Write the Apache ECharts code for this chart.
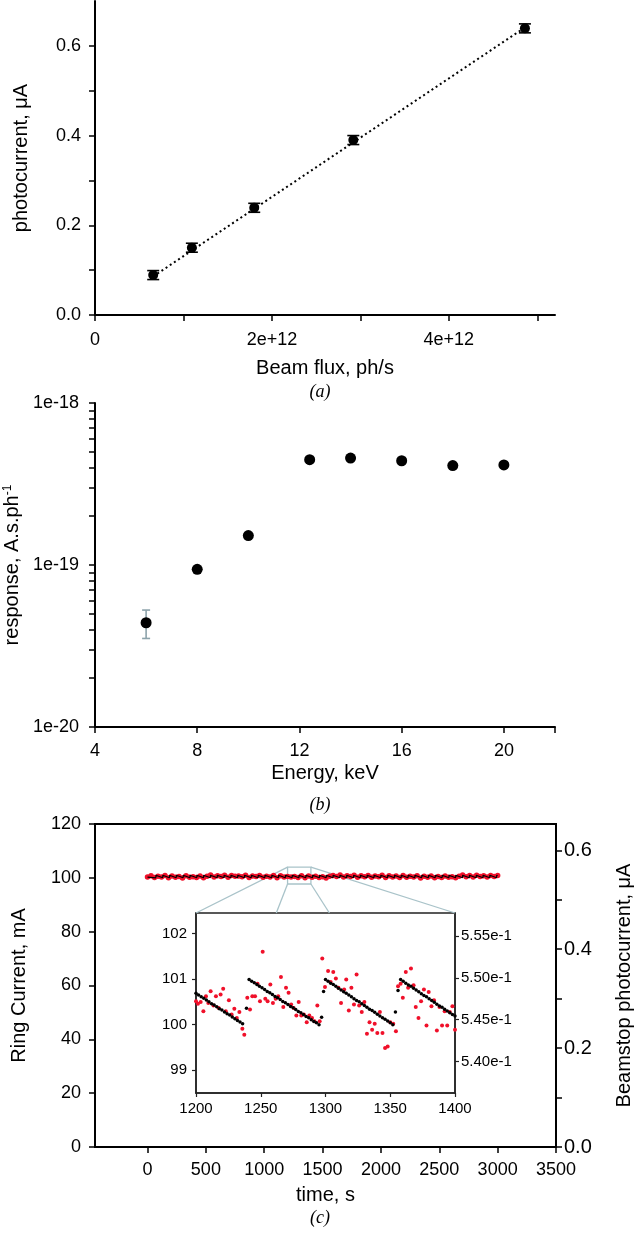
<!DOCTYPE html>
<html>
<head>
<meta charset="utf-8">
<script src="https://cdn.jsdelivr.net/npm/echarts@6/dist/echarts.min.js"></script>
<style>
html,body{margin:0;padding:0;background:#fff;}
#chart{width:640px;height:1233px;}
</style>
</head>
<body>
<div id="chart"></div>
<script>
// ---------- Panel (a): photocurrent vs beam flux ----------
const fluxX = [0.658e12, 1.095e12, 1.80e12, 2.92e12, 4.86e12];
const photoY = [0.089, 0.150, 0.239, 0.390, 0.639];
const photoErr = [0.010, 0.010, 0.010, 0.010, 0.010];
const fitX = [0.658e12, 4.86e12];
const fitY = [0.086, 0.641];
const aXTicks = [0, 1e12, 2e12, 3e12, 4e12, 5e12];
const aXLabels = [0, 2e12, 4e12];
const aYTicks = [0, 0.1, 0.2, 0.3, 0.4, 0.5, 0.6];
const aYLabels = [0, 0.2, 0.4, 0.6];

// ---------- Panel (b): response vs energy ----------
const energyX = [6, 8, 10, 12.4, 14, 16, 18, 20];
const responseY = [4.4e-20, 9.4e-20, 1.52e-19, 4.47e-19, 4.57e-19, 4.4e-19, 4.11e-19, 4.15e-19];
const respErrX = [6];
const respErrLow = [3.52e-20];
const respErrHigh = [5.27e-20];
const bXTicks = [4, 8, 12, 16, 20, 22];
const bXLabels = [4, 8, 12, 16, 20];
const bYTicks = [1e-20,2e-20,3e-20,4e-20,5e-20,6e-20,7e-20,8e-20,9e-20,
                 1e-19,2e-19,3e-19,4e-19,5e-19,6e-19,7e-19,8e-19,9e-19,1e-18];
const bYLabels = [1e-20, 1e-19, 1e-18];

// ---------- Panel (c): ring current & beamstop photocurrent vs time ----------
const cXTicks = [0, 500, 1000, 1500, 2000, 2500, 3000, 3500];
const cRightTicks = [0, 0.1, 0.2, 0.3, 0.4, 0.5, 0.6];
const cRightLabels = [0, 0.2, 0.4, 0.6];
// top-up (refill) times of the ring current, s
const refillT = [14, 72, 131, 189, 247, 306, 364, 423, 481, 539, 598, 656, 715, 773, 831, 890,
  948, 1006, 1065, 1123, 1182, 1240, 1298, 1357, 1415, 1474, 1532, 1590, 1649, 1707, 1766, 1824,
  1882, 1941, 1999, 2058, 2116, 2174, 2233, 2291, 2350, 2408, 2466, 2525, 2583, 2641, 2700, 2758,
  2817, 2875, 2933, 2992];
const ringPeak = 101.0;    // mA just after a top-up
const ringTrough = 100.0;  // mA just before a top-up
const ringStart = 100.26;  // mA at t = 0
const ringEnd = 100.85;    // mA at t = 3000

const mainRedT = [0,30,60,90,120,150,180,210,240,270,300,330,360,390,420,450,480,510,540,570,
  600,630,660,690,720,750,780,810,840,870,900,930,960,990,1020,1050,1080,1110,1140,1170,
  1200,1230,1260,1290,1320,1350,1380,1410,1440,1470,1500,1530,1560,1590,1620,1650,1680,1710,1740,1770,
  1800,1830,1860,1890,1920,1950,1980,2010,2040,2070,2100,2130,2160,2190,2220,2250,2280,2310,2340,2370,
  2400,2430,2460,2490,2520,2550,2580,2610,2640,2670,2700,2730,2760,2790,2820,2850,2880,2910,2940,2970,3000];
const mainRedV = [0.5460,0.5488,0.5449,0.5477,0.5460,0.5493,0.5444,0.5482,0.5455,0.5471,
  0.5439,0.5488,0.5455,0.5466,0.5449,0.5482,0.5444,0.5477,0.5504,0.5460,
  0.5488,0.5471,0.5498,0.5455,0.5493,0.5477,0.5482,0.5466,0.5498,0.5449,
  0.5482,0.5471,0.5493,0.5455,0.5477,0.5460,0.5493,0.5444,0.5488,0.5460,
  0.5471,0.5463,0.5470,0.5453,0.5488,0.5444,0.5483,0.5455,0.5477,0.5449,
  0.5466,0.5439,0.5477,0.5493,0.5471,0.5504,0.5460,0.5488,0.5471,0.5498,
  0.5455,0.5488,0.5466,0.5493,0.5455,0.5482,0.5466,0.5498,0.5449,0.5488,
  0.5460,0.5482,0.5449,0.5493,0.5455,0.5477,0.5460,0.5488,0.5439,0.5477,
  0.5455,0.5482,0.5444,0.5471,0.5449,0.5482,0.5455,0.5466,0.5444,0.5477,
  0.5504,0.5466,0.5493,0.5460,0.5498,0.5471,0.5488,0.5460,0.5493,0.5471,0.5493];

// inset: 1200-1400 s
const insetRingT = [1200,1202,1204,1206,1208,1210,1212,1214,1216,1218,1220,1222,1224,1226,1228,1230,1232,1234,1236,
  1239,
  1241,1243,1245,1247,1249,1251,1253,1255,1257,1259,1261,1263,1265,1267,1269,1271,1273,1275,1277,1279,1281,1283,1285,1287,1289,1291,1293,1295,
  1297,1298.5,
  1300,1302,1304,1306,1308,1310,1312,1314,1316,1318,1320,1322,1324,1326,1328,1330,1332,1334,1336,1338,1340,1342,1344,1346,1348,1350,1352,
  1354,1356,
  1358,1360,1362,1364,1366,1368,1370,1372,1374,1376,1378,1380,1382,1384,1386,1388,1390,1392,1394,1396,1398,1400];
const insetRingV = [100.69,100.65,100.61,100.58,100.54,100.50,100.46,100.43,100.39,100.35,100.32,100.28,100.24,100.21,100.17,100.13,100.09,100.06,100.02,
  100.36,
  100.99,100.95,100.92,100.88,100.84,100.81,100.77,100.73,100.70,100.66,100.62,100.59,100.55,100.51,100.48,100.44,100.40,100.37,100.33,100.29,100.26,100.22,100.18,100.15,100.11,100.07,100.04,100.00,
  100.16,100.73,
  100.99,100.95,100.91,100.88,100.84,100.80,100.76,100.72,100.69,100.65,100.61,100.57,100.53,100.50,100.46,100.42,100.38,100.34,100.31,100.27,100.23,100.19,100.15,100.12,100.08,100.04,100.00,
  100.28,100.75,
  100.99,100.95,100.91,100.87,100.84,100.80,100.76,100.72,100.68,100.64,100.61,100.57,100.53,100.49,100.45,100.41,100.38,100.34,100.30,100.26,100.22,100.19];
const insetRedT = [1200,1201.5,1203.6,1205.7,1207.7,1209.5,1211.3,1213.5,1215.4,1217.5,1219,1221,1223,1225.4,1227.5,1229.6,1231.5,1233.5,1235.8,1237.3,
  1239.6,1241.7,1243.5,1245.6,1247.5,1249.4,1251.5,1253.5,1255.3,1257.4,1259.4,1261.5,1263.5,1265.6,1267.4,1269.5,1271.5,1273.5,1275.4,1277.5,
  1279.3,1281.3,1283.3,1285.5,1287.5,1289.6,1291.5,1293.7,1295.5,1297.5,1299.6,1302,1304,1306,1308,1310,1312,1314.4,1316,1318,
  1320,1322,1324,1326,1328,1330,1332,1334,1336,1338,1340,1342,1344,1346,1348,1350,1352.3,1354.4,1356,1358,
  1359.7,1362,1363.8,1366,1368,1369.7,1371.8,1373.8,1376,1378,1379.7,1381.8,1383.8,1386,1388,1390,1392,1394,1396,1398,1400];
const insetRedV = [0.5472,0.5469,0.5471,0.5460,0.5478,0.5470,0.5484,0.5467,0.5478,0.5464,0.5480,0.5487,0.5460,0.5473,0.5456,0.5463,0.5452,0.5459,0.5439,0.5432,
  0.5476,0.5462,0.5478,0.5478,0.5493,0.5472,0.5531,0.5475,0.5472,0.5492,0.5470,0.5475,0.5478,0.5501,0.5465,0.5488,0.5482,0.5468,0.5464,0.5455,
  0.5471,0.5455,0.5456,0.5447,0.5455,0.5452,0.5448,0.5467,0.5448,0.5523,0.5489,0.5508,0.5495,0.5507,0.5499,0.5488,0.5470,0.5486,0.5498,0.5461,
  0.5488,0.5468,0.5504,0.5467,0.5459,0.5471,0.5433,0.5447,0.5438,0.5445,0.5434,0.5459,0.5434,0.5416,0.5418,0.5447,0.5445,0.5436,0.5490,0.5493,
  0.5476,0.5507,0.5488,0.5511,0.5491,0.5465,0.5452,0.5472,0.5486,0.5443,0.5483,0.5466,0.5473,0.5437,0.5465,0.5443,0.5460,0.5443,0.5459,0.5466,0.5438];
const insetLeftTicks = [99, 100, 101, 102];
const insetRightTicks = [0.540, 0.545, 0.550, 0.555];
// annotation: zoomed region marked on the main panel
const zoomBox = {t0: 1200, t1: 1400, lo: 97.7, hi: 104.0};
const zoomFeet = [1262, 1303];

// ---------- helpers ----------
const FONT = 'Liberation Sans, Arial, sans-serif';
const BLACK = '#000';
const RED = '#f0102a';
const zip = (a, b) => a.map((v, i) => [v, b[i]]);

// ring current sawtooth vertices built from top-up times
const ringLine = [[0, ringStart]];
refillT.forEach((t, i) => {
  if (i > 0) ringLine.push([t - 1, ringTrough]);
  ringLine.push([t, ringPeak]);
});
ringLine.push([3000, ringEnd]);

function axisCommon(extra) {
  return Object.assign({
    axisLine: {show: true, onZero: false, lineStyle: {color: BLACK, width: 2}},
    axisTick: {show: true, inside: false, length: 6, lineStyle: {color: BLACK, width: 1.5}},
    splitLine: {show: false},
    nameLocation: 'middle',
    nameTextStyle: {color: BLACK, fontFamily: FONT, fontSize: 20},
  }, extra);
}
function lbl(size, margin, customValues, formatter) {
  const o = {color: BLACK, fontFamily: FONT, fontSize: size, margin: margin,
    formatter: formatter || (v => String(v))};
  if (customValues) o.customValues = customValues;
  return o;
}
function errRender(color, capHalf) {
  return function (params, api) {
    const x = api.value(0), lo = api.value(1), hi = api.value(2);
    const p1 = api.coord([x, lo]), p2 = api.coord([x, hi]);
    const st = {stroke: color, lineWidth: 1.6};
    return {type: 'group', children: [
      {type: 'line', shape: {x1: p1[0], y1: p1[1], x2: p2[0], y2: p2[1]}, style: st},
      {type: 'line', shape: {x1: p1[0] - capHalf, y1: p1[1], x2: p1[0] + capHalf, y2: p1[1]}, style: st},
      {type: 'line', shape: {x1: p2[0] - capHalf, y1: p2[1], x2: p2[0] + capHalf, y2: p2[1]}, style: st}
    ]};
  };
}
const solid = c => ({color: c, opacity: 1});

const chart = echarts.init(document.getElementById('chart'), null, {renderer: 'canvas'});
const serif = 'Liberation Serif, Times New Roman, serif';
const option = {
  backgroundColor: '#fff',
  animation: false,
  title: [
    {text: '(a)', left: 'center', top: 383, padding: 0, textStyle: {fontFamily: serif, fontStyle: 'italic', fontWeight: 'normal', fontSize: 18, color: BLACK}},
    {text: '(b)', left: 'center', top: 796, padding: 0, textStyle: {fontFamily: serif, fontStyle: 'italic', fontWeight: 'normal', fontSize: 18, color: BLACK}},
    {text: '(c)', left: 'center', top: 1209, padding: 0, textStyle: {fontFamily: serif, fontStyle: 'italic', fontWeight: 'normal', fontSize: 18, color: BLACK}}
  ],
  grid: [
    {left: 95, top: 1, width: 460, height: 314, containLabel: false, outerBoundsMode: 'none'},
    {left: 95, top: 403, width: 460, height: 324, containLabel: false, outerBoundsMode: 'none'},
    {left: 95, top: 824, width: 461, height: 323, containLabel: false, outerBoundsMode: 'none', show: true, borderColor: BLACK, borderWidth: 2, backgroundColor: 'transparent'},
    {left: 196, top: 913, width: 259, height: 180, containLabel: false, outerBoundsMode: 'none', show: true, borderColor: '#222', borderWidth: 1.5, backgroundColor: 'transparent'}
  ],
  xAxis: [
    axisCommon({gridIndex: 0, type: 'value', min: 0, max: 5.2e12, name: 'Beam flux, ph/s', nameGap: 43,
      axisTick: {show: true, length: 6, lineStyle: {color: BLACK, width: 1.5}, customValues: aXTicks},
      axisLabel: lbl(18, 16, aXLabels, v => v === 0 ? '0' : (v / 1e12) + 'e+12')}),
    axisCommon({gridIndex: 1, type: 'value', min: 4, max: 22, name: 'Energy, keV', nameGap: 36,
      axisTick: {show: true, length: 6, lineStyle: {color: BLACK, width: 1.5}, customValues: bXTicks},
      axisLabel: lbl(18, 15, bXLabels)}),
    axisCommon({gridIndex: 2, type: 'value', min: -450, max: 3500, name: 'time, s', nameGap: 38,
      axisTick: {show: true, length: 6, lineStyle: {color: BLACK, width: 1.5}, customValues: cXTicks},
      axisLabel: lbl(18, 14, cXTicks)}),
    axisCommon({gridIndex: 3, type: 'value', min: 1200, max: 1400, interval: 50,
      axisLine: {show: true, onZero: false, lineStyle: {color: '#222', width: 1.5}},
      axisTick: {show: true, length: 4, lineStyle: {color: '#222', width: 1.2}},
      axisLabel: lbl(15, 8)})
  ],
  yAxis: [
    axisCommon({gridIndex: 0, type: 'value', min: 0, max: 0.7, name: 'photocurrent, μA', nameGap: 64, nameRotate: 90,
      axisTick: {show: true, length: 6, lineStyle: {color: BLACK, width: 1.5}, customValues: aYTicks},
      axisLabel: lbl(18, 14, aYLabels, v => v.toFixed(1))}),
    axisCommon({gridIndex: 1, type: 'log', logBase: 10, min: 1e-20, max: 1e-18, name: 'response, A.s.ph{sup|-1}', nameGap: 64, nameRotate: 90,
      nameTextStyle: {color: BLACK, fontFamily: FONT, fontSize: 20, rich: {sup: {fontSize: 12, fontFamily: FONT, color: BLACK, verticalAlign: 'top', padding: [0, 0, 8, 0]}}},
      axisTick: {show: true, length: 6, lineStyle: {color: BLACK, width: 1.5}, customValues: bYTicks},
      axisLabel: lbl(18, 16, bYLabels, v => '1e' + Math.round(Math.log10(v)))}),
    axisCommon({gridIndex: 2, type: 'value', min: 0, max: 120, interval: 20, name: 'Ring Current, mA', nameGap: 66, nameRotate: 90,
      axisLabel: lbl(18, 14)}),
    axisCommon({gridIndex: 2, type: 'value', position: 'right', min: 0, max: 0.6533, name: 'Beamstop photocurrent, μA', nameGap: 58, nameRotate: 90,
      axisTick: {show: true, length: 6, lineStyle: {color: BLACK, width: 1.5}, customValues: cRightTicks},
      axisLabel: lbl(20, 8, cRightLabels, v => v.toFixed(1))}),
    axisCommon({gridIndex: 3, type: 'value', min: 98.5, max: 102.45,
      axisLine: {show: true, onZero: false, lineStyle: {color: '#222', width: 1.5}},
      axisTick: {show: true, length: 4, lineStyle: {color: '#222', width: 1.2}, customValues: insetLeftTicks},
      axisLabel: lbl(15, 9, insetLeftTicks)}),
    axisCommon({gridIndex: 3, type: 'value', position: 'right', min: 0.536234, max: 0.557738,
      axisLine: {show: true, onZero: false, lineStyle: {color: '#222', width: 1.5}},
      axisTick: {show: true, length: 4, lineStyle: {color: '#222', width: 1.2}, customValues: insetRightTicks},
      axisLabel: lbl(15, 6, insetRightTicks, v => (v * 10).toFixed(2) + 'e-1')})
  ],
  series: [
    // panel a
    {type: 'line', xAxisIndex: 0, yAxisIndex: 0, data: zip(fitX, fitY), showSymbol: false, symbol: 'none',
      lineStyle: {color: BLACK, width: 2, type: [2, 3], cap: 'butt'}, z: 2},
    {type: 'custom', xAxisIndex: 0, yAxisIndex: 0, renderItem: errRender(BLACK, 6),
      encode: {x: 0, y: [1, 2]}, data: fluxX.map((x, i) => [x, photoY[i] - photoErr[i], photoY[i] + photoErr[i]]), z: 3},
    {type: 'scatter', xAxisIndex: 0, yAxisIndex: 0, data: zip(fluxX, photoY), symbol: 'circle', symbolSize: 10,
      itemStyle: solid(BLACK), z: 4},
    // panel b
    {type: 'custom', xAxisIndex: 1, yAxisIndex: 1, renderItem: errRender('#8da3ab', 4),
      encode: {x: 0, y: [1, 2]}, data: respErrX.map((x, i) => [x, respErrLow[i], respErrHigh[i]]), z: 3},
    {type: 'scatter', xAxisIndex: 1, yAxisIndex: 1, data: zip(energyX, responseY), symbol: 'circle', symbolSize: 11,
      itemStyle: solid(BLACK), z: 4},
    // panel c main
    {type: 'scatter', xAxisIndex: 2, yAxisIndex: 3, data: zip(mainRedT, mainRedV), symbol: 'circle', symbolSize: 5.5,
      itemStyle: solid(RED), z: 3},
    {type: 'line', xAxisIndex: 2, yAxisIndex: 2, data: ringLine, showSymbol: false, symbol: 'none',
      lineStyle: {color: BLACK, width: 1.1, opacity: 1}, z: 4},
    // inset
    {type: 'scatter', xAxisIndex: 3, yAxisIndex: 5, data: zip(insetRedT, insetRedV), symbol: 'circle', symbolSize: 4,
      itemStyle: solid(RED), z: 4},
    {type: 'scatter', xAxisIndex: 3, yAxisIndex: 4, data: zip(insetRingT, insetRingV), symbol: 'circle', symbolSize: 3.5,
      itemStyle: solid(BLACK), z: 5}
  ]
};
chart.setOption(option);

// zoom annotation (rectangle + connector lines), positioned through the axes
function px(axis, idx, v) { const f = {}; f[axis] = idx; return chart.convertToPixel(f, v); }
const rx0 = px('xAxisIndex', 2, zoomBox.t0), rx1 = px('xAxisIndex', 2, zoomBox.t1);
const ry0 = px('yAxisIndex', 2, zoomBox.hi), ry1 = px('yAxisIndex', 2, zoomBox.lo);
const ix0 = px('xAxisIndex', 3, 1200), ix1 = px('xAxisIndex', 3, 1400);
const iy = px('yAxisIndex', 4, 102.45);
const fx0 = px('xAxisIndex', 3, zoomFeet[0]), fx1 = px('xAxisIndex', 3, zoomFeet[1]);
const LC = '#a9c3c9';
const ls = {stroke: LC, lineWidth: 1.3, fill: null};
chart.setOption({graphic: [
  {type: 'rect', shape: {x: rx0, y: ry0, width: rx1 - rx0, height: ry1 - ry0}, style: {stroke: LC, lineWidth: 1.3, fill: null}, z: 1},
  {type: 'line', shape: {x1: rx0, y1: ry0, x2: ix0, y2: iy}, style: ls, z: 1},
  {type: 'line', shape: {x1: rx1, y1: ry0, x2: ix1, y2: iy}, style: ls, z: 1},
  {type: 'line', shape: {x1: rx0, y1: ry1, x2: fx0, y2: iy}, style: ls, z: 1},
  {type: 'line', shape: {x1: rx1, y1: ry1, x2: fx1, y2: iy}, style: ls, z: 1}
]});
</script>
</body>
</html>
